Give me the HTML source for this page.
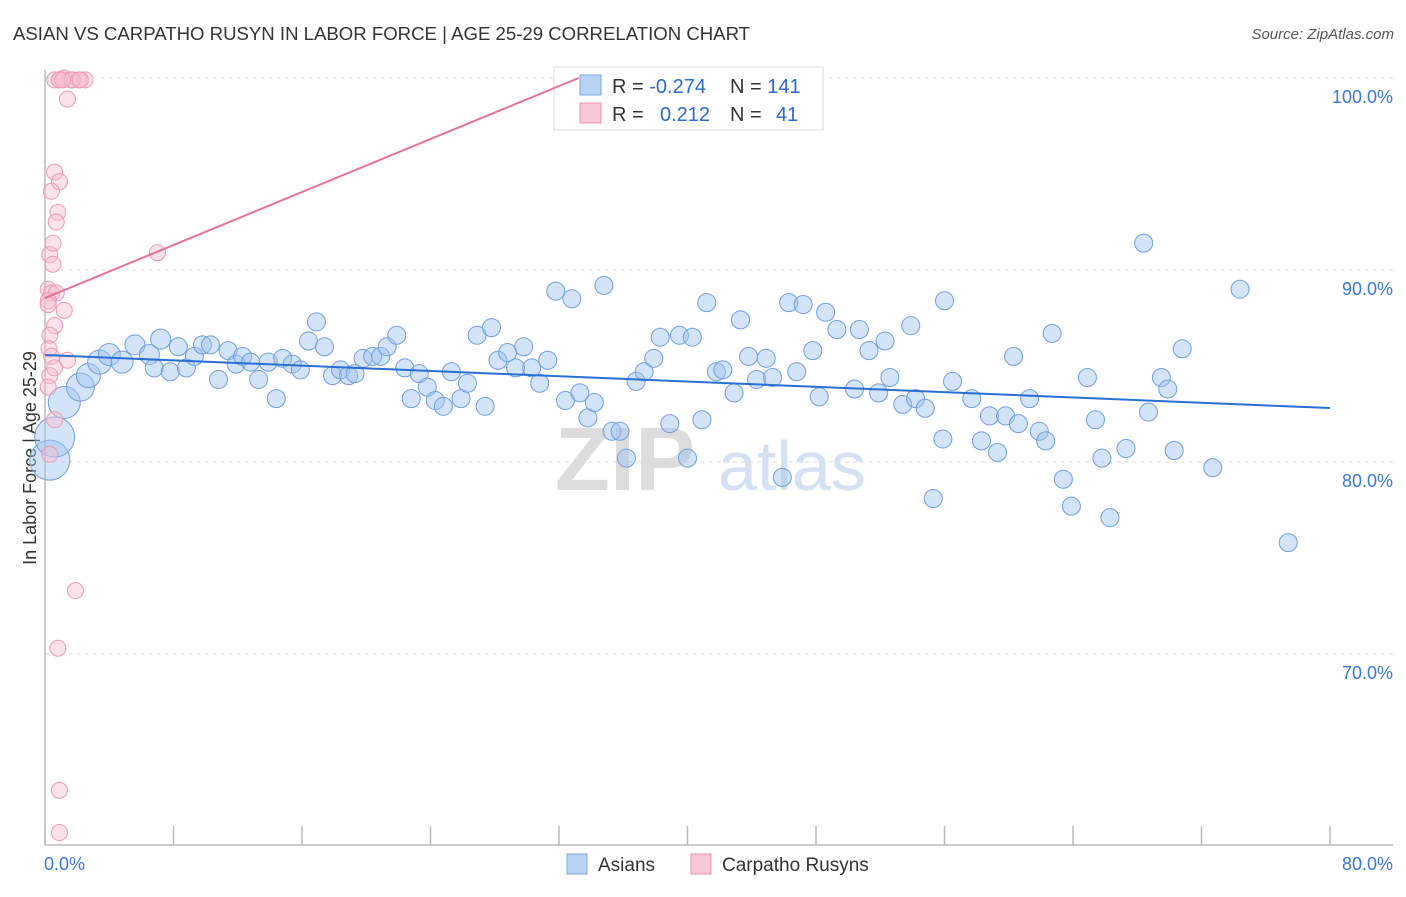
<!DOCTYPE html>
<html><head><meta charset="utf-8"><style>
body{margin:0;background:#fff;font-family:"Liberation Sans",sans-serif}
svg text{font-family:"Liberation Sans",sans-serif}
</style></head><body>
<svg id="chart" width="1406" height="892" xmlns="http://www.w3.org/2000/svg">
<text x="13" y="40" font-size="18.6" fill="#333">ASIAN VS CARPATHO RUSYN IN LABOR FORCE | AGE 25-29 CORRELATION CHART</text>
<text x="1394" y="39" font-size="15" fill="#555" font-style="italic" text-anchor="end">Source: ZipAtlas.com</text>
<text x="36" y="458" font-size="18" fill="#333" transform="rotate(-90 36 458)" text-anchor="middle">In Labor Force | Age 25-29</text>
<g id="grid"></g>
<text x="555" y="490" font-size="90" fill="#ddd" font-family="Liberation Serif" font-weight="bold">ZIP</text>
<text x="718" y="490" font-size="70" fill="#d4e2f4">atlas</text>
<g id="points"></g>
<g>
<rect x="554" y="67" width="269" height="63" fill="#fff" stroke="#ddd"/>
<rect x="580" y="75" width="21" height="20" fill="#b9d3f5" stroke="#7aa7e6"/>
<rect x="580" y="103" width="21" height="20" fill="#f9c6d6" stroke="#ef92b1"/>
<text x="612" y="93" font-size="20" fill="#333">R = <tspan fill="#2a6bd1">-0.274</tspan></text>
<text x="730" y="93" font-size="20" fill="#333">N = <tspan fill="#2a6bd1">141</tspan></text>
<text x="612" y="121" font-size="20" fill="#333">R = <tspan x="660" fill="#2a6bd1">0.212</tspan></text>
<text x="730" y="121" font-size="20" fill="#333">N = <tspan x="776" fill="#2a6bd1">41</tspan></text>
</g>
<g id="lines"></g>
<g>
<rect x="567" y="854" width="20" height="20" fill="#b9d3f5" stroke="#7aa7e6"/>
<text x="598" y="871" font-size="19" fill="#333">Asians</text>
<rect x="691" y="854" width="20" height="20" fill="#f9c6d6" stroke="#ef92b1"/>
<text x="722" y="871" font-size="19" fill="#333">Carpatho Rusyns</text>
</g>
</svg>
<script>
const xTicks=[0,10,20,30,40,50,60,70,80];
const yTicks=[100,90,80,70];
const blueX=[0.3,0.6,1.2,2.2,2.7,3.4,4.0,4.8,5.6,6.5,7.2,6.8,7.8,8.3,8.8,9.3,9.8,10.3,10.8,11.4,11.9,12.3,12.8,13.3,13.9,14.4,14.8,15.4,15.9,16.4,16.9,17.4,17.9,18.4,18.9,19.3,19.8,20.4,20.9,21.3,21.9,22.4,22.8,23.3,23.8,24.3,24.8,25.3,25.9,26.3,26.9,27.4,27.8,28.2,28.8,29.3,29.8,30.3,30.8,31.3,31.8,32.4,32.8,33.3,33.8,34.2,34.8,35.3,35.8,36.2,36.8,37.3,37.9,38.3,38.9,39.5,40.0,40.3,40.9,41.2,41.8,42.2,42.9,43.3,43.8,44.3,44.9,45.3,45.9,46.3,46.8,47.2,47.8,48.2,48.6,49.3,50.4,50.7,51.3,51.9,52.3,52.6,53.4,53.9,54.2,54.8,55.3,55.9,56.0,56.5,57.7,58.3,58.8,59.3,59.8,60.6,61.3,61.9,62.3,62.7,63.4,63.9,64.9,65.4,65.8,66.3,67.3,68.4,68.7,69.5,69.9,70.3,70.8,72.7,74.4,77.4,60.3];
const blueY=[80.1,81.3,83.1,83.9,84.5,85.2,85.6,85.2,86.1,85.6,86.4,84.9,84.7,86.0,84.9,85.5,86.1,86.1,84.3,85.8,85.1,85.5,85.2,84.3,85.2,83.3,85.4,85.1,84.8,86.3,87.3,86.0,84.5,84.8,84.5,84.6,85.4,85.5,85.5,86.0,86.6,84.9,83.3,84.6,83.9,83.2,82.9,84.7,83.3,84.1,86.6,82.9,87.0,85.3,85.7,84.9,86.0,84.9,84.1,85.3,88.9,83.2,88.5,83.6,82.3,83.1,89.2,81.6,81.6,80.2,84.2,84.7,85.4,86.5,82.0,86.6,80.2,86.5,82.2,88.3,84.7,84.8,83.6,87.4,85.5,84.3,85.4,84.4,79.2,88.3,84.7,88.2,85.8,83.4,87.8,86.9,83.8,86.9,85.8,83.6,86.3,84.4,83.0,87.1,83.3,82.8,78.1,81.2,88.4,84.2,83.3,81.1,82.4,80.5,82.4,82.0,83.3,81.6,81.1,86.7,79.1,77.7,84.4,82.2,80.2,77.1,80.7,91.4,82.6,84.4,83.8,80.6,85.9,79.7,89.0,75.8,85.5];
const blueR=[20,20,16,14,12,12,11,11,10,10,10];
const pinkX=[0.6,0.9,1.2,1.6,2.1,2.5,1.4,0.6,0.9,0.4,0.8,0.7,0.3,0.5,7.0,0.2,0.4,0.7,0.2,1.2,0.6,0.3,0.25,0.4,1.4,0.3,0.2,0.6,0.3,1.9,0.8,0.9,0.9,37.4,0.5,0.2,0.6,0.9,1.7,1.1,2.2];
const pinkY=[99.9,99.9,100,99.9,99.9,99.9,98.9,95.1,94.6,94.1,93.0,92.5,90.8,90.3,90.9,89.0,88.8,88.8,88.4,87.9,87.1,86.6,85.9,85.5,85.3,84.5,83.9,82.2,80.4,73.3,70.3,62.9,60.7,100,91.4,88.2,84.9,99.9,99.9,99.9,99.9];
const blueLine=[85.57,82.81];
const pinkLine=[88.54,88.54+11.35/32.9*80];
const NS='http://www.w3.org/2000/svg';
const X=v=>45+v/80*1285, Y=v=>78+(100-v)*19.2;
function mk(t,a,p){const e=document.createElementNS(NS,t);for(const k in a)e.setAttribute(k,a[k]);p.appendChild(e);return e;}
const grid=document.getElementById('grid');
for(const t of yTicks){
 const l=mk('line',{x1:45,x2:1393,y1:Y(t),y2:Y(t),stroke:'#ddd','stroke-dasharray':'4,4'},grid);
 
 
 const tx=mk('text',{x:1393,y:Y(t)+25,'font-size':18,fill:'#3b78d8','text-anchor':'end'},grid);
 tx.textContent=t.toFixed(1)+'%';
 
 
}
mk('line',{x1:45,x2:45,y1:70,y2:845,stroke:'#bbb','stroke-width':1.5},grid);
mk('line',{x1:45,x2:1393,y1:845,y2:845,stroke:'#bbb','stroke-width':1.5},grid);
for(let i=0;i<=10;i++){const v=i*8;mk('line',{x1:X(v),x2:X(v),y1:826,y2:845,stroke:'#bbb','stroke-width':1.5},grid);}
for(const [v,anc] of [[0,'start'],[80,'end']]){
 const tx=mk('text',{x:v==0?44:1393,y:870,'font-size':18,fill:'#3b78d8','text-anchor':anc},grid);
 tx.textContent=v.toFixed(1)+'%';
 
 
}
const pts=document.getElementById('points');
blueX.forEach((x,i)=>{
 const c=mk('circle',{cx:X(x),cy:Y(blueY[i]),r:blueR[i]||9,fill:'rgba(160,196,240,0.45)',stroke:'#6f9fe0','stroke-width':1},pts);
 
 
});
pinkX.forEach((x,i)=>{
 const c=mk('circle',{cx:X(x),cy:Y(pinkY[i]),r:8,fill:'rgba(248,190,208,0.45)',stroke:'#ef9ab5','stroke-width':1},pts);
 
 
});
const ln=document.getElementById('lines');
const bl=mk('line',{x1:X(0),y1:Y(blueLine[0]),x2:X(80),y2:Y(blueLine[1]),stroke:'#2a6fd6','stroke-width':2},ln);


const xEnd=(100-pinkLine[0])/(pinkLine[1]-pinkLine[0])*80;
const pl=mk('line',{x1:X(0),y1:Y(pinkLine[0]),x2:X(xEnd),y2:Y(100),stroke:'#e8709a','stroke-width':2},ln);


</script>
</body></html>
